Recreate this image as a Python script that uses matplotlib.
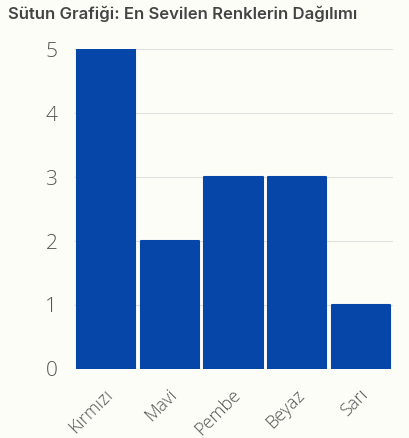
import matplotlib
matplotlib.use('Agg')
import matplotlib.pyplot as plt
from matplotlib.transforms import ScaledTranslation

colors = ['Kırmızı', 'Mavi', 'Pembe', 'Beyaz', 'Sarı']
votes = [5, 2, 3, 3, 1]
yticks = [0, 1, 2, 3, 4, 5]

bg = '#fdfdf8'
fig = plt.figure(figsize=(4.10, 4.38), dpi=100, facecolor=bg)
ax = fig.add_axes([74/410, 1-369/438, (393-74)/410, (369-49)/438], facecolor=bg)

bars = ax.bar(range(len(colors)), votes, width=0.91, color='#0646a8',
              edgecolor='#0646a8', linewidth=1.5, joinstyle='round', zorder=3)

ax.set_xlim(-0.5, len(colors) - 0.5)
ax.set_ylim(0, 5)
ax.set_yticks(yticks)
ax.set_yticklabels([str(t) for t in yticks], fontsize=15, color='#555555',
                   family='Open Sans', fontweight='light')
ax.set_xticks(range(len(colors)))
ax.set_xticklabels(colors, rotation=45, ha='right', va='top', rotation_mode='anchor',
                   fontsize=13, color='#555555', family='Open Sans', fontweight='light')
ax.tick_params(axis='y', length=0, pad=12)
ax.tick_params(axis='x', length=0, pad=12)
shift = ScaledTranslation(-2/100, 0, fig.dpi_scale_trans)
for lbl in ax.get_xticklabels():
    lbl.set_transform(lbl.get_transform() + shift)
ax.grid(axis='y', color='#e0e0e0', linewidth=0.8, zorder=0)
for s in ax.spines.values():
    s.set_visible(False)

fig.text(8/410, 1-14/438, 'Sütun Grafiği: En Sevilen Renklerin Dağılımı',
         fontsize=12, fontweight='semibold', color='#444444', family='Inter',
         va='center', ha='left')

fig.savefig('out.png', dpi=100, facecolor=bg)
